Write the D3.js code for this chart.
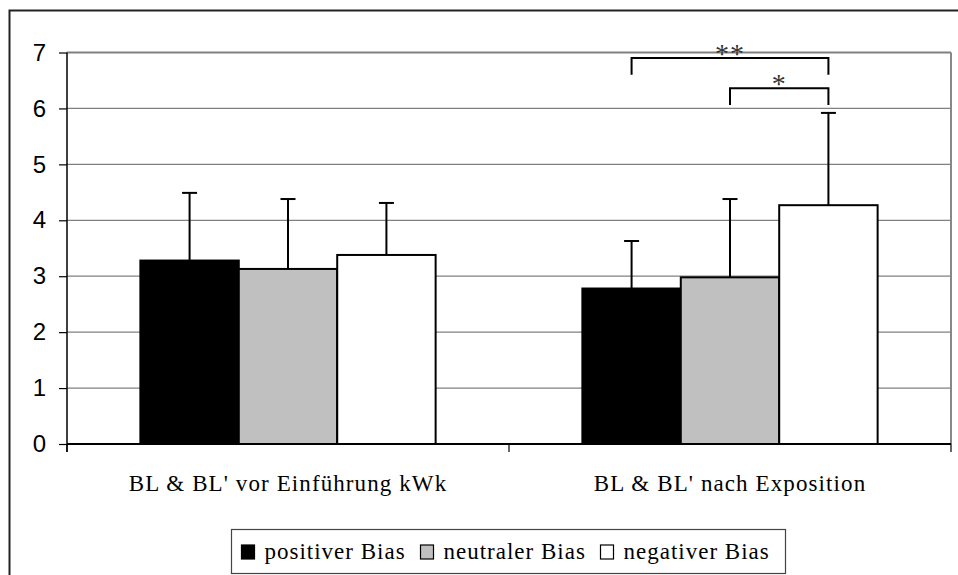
<!DOCTYPE html>
<html><head><meta charset="utf-8">
<script src="https://cdn.jsdelivr.net/npm/d3@7/dist/d3.min.js"></script>
<style>body{margin:0;background:#fff}svg{display:block}</style>
</head><body>
<svg id="c" width="958" height="575"></svg>
<script>
const categories = ["BL & BL' vor Einführung kWk", "BL & BL' nach Exposition"];
const seriesNames = ["positiver Bias", "neutraler Bias", "negativer Bias"];
const seriesColors = ["#000000", "#c0c0c0", "#ffffff"];
const means = [[3.28, 3.13, 3.38], [2.78, 2.98, 4.27]];
const errors = [[1.21, 1.25, 0.93], [0.85, 1.40, 1.65]];
const yTicks = [0, 1, 2, 3, 4, 5, 6, 7];
const brackets = [
  {cat: 1, from: 0, to: 2, top: 6.9, leg: 6.6, label: "**"},
  {cat: 1, from: 1, to: 2, top: 6.36, leg: 6.06, label: "*"}
];

const SERIF = "Liberation Serif";
const SANS = "Liberation Sans";
const svg = d3.select("#c");
const L = 67, R = 951, T = 52.5, B = 444;

// outer frame
svg.append("rect").attr("x", 9.5).attr("y", 10.5).attr("width", 1000).attr("height", 1000)
  .attr("fill", "none").attr("stroke", "#222").attr("stroke-width", 2);

const x = d3.scaleBand().domain(categories).range([L, R]).paddingInner(0).paddingOuter(0);
const xsInner = d3.scaleBand().domain(seriesNames).range([x.bandwidth()*0.166, x.bandwidth()*0.834]);
const y = d3.scaleLinear().domain([0, 7]).range([B, T]);

// gridlines
svg.append("g").selectAll("line").data(yTicks.filter(d => d > 0)).join("line")
  .attr("x1", L).attr("x2", R).attr("y1", d => y(d)).attr("y2", d => y(d))
  .attr("stroke", "#808080").attr("stroke-width", d => d === 7 ? 2 : 1.2);
svg.append("line").attr("x1", R).attr("x2", R).attr("y1", T).attr("y2", B)
  .attr("stroke", "#888").attr("stroke-width", 2);

// bars
const groups = svg.append("g").selectAll("g").data(categories).join("g")
  .attr("transform", d => `translate(${x(d)},0)`);
const rows = (d, i) => means[i].map((v, j) => ({v, j, e: errors[i][j]}));
groups.selectAll("rect").data(rows).join("rect")
  .attr("x", d => xsInner(seriesNames[d.j]))
  .attr("width", xsInner.bandwidth())
  .attr("y", d => y(d.v)).attr("height", d => B - y(d.v))
  .attr("fill", d => seriesColors[d.j]).attr("stroke", "#000").attr("stroke-width", 2);

// error bars
const eb = groups.selectAll("g.eb").data(rows).join("g").attr("class", "eb");
const cxOf = d => xsInner(seriesNames[d.j]) + xsInner.bandwidth()/2;
eb.append("line").attr("x1", cxOf).attr("x2", cxOf)
  .attr("y1", d => y(d.v)).attr("y2", d => y(d.v + d.e))
  .attr("stroke", "#000").attr("stroke-width", 2);
eb.append("line").attr("x1", d => cxOf(d) - 7.5).attr("x2", d => cxOf(d) + 7.5)
  .attr("y1", d => y(d.v + d.e)).attr("y2", d => y(d.v + d.e))
  .attr("stroke", "#000").attr("stroke-width", 2);

// brackets
brackets.forEach(b => {
  const cx = i => x(categories[b.cat]) + xsInner(seriesNames[i]) + xsInner.bandwidth()/2;
  const x1 = cx(b.from), x2 = cx(b.to);
  svg.append("path")
    .attr("d", `M${x1},${y(b.leg)}V${y(b.top)}H${x2}V${y(b.leg)}`)
    .attr("fill", "none").attr("stroke", "#000").attr("stroke-width", 2);
  svg.append("text").attr("x", (x1 + x2)/2).attr("y", y(b.top) + 5)
    .attr("text-anchor", "middle").attr("font-family", SERIF).attr("font-size", 28)
    .attr("letter-spacing", 1).attr("fill", "#333").text(b.label);
});

// y axis
const yAxis = svg.append("g").attr("transform", `translate(${L},0)`)
  .call(d3.axisLeft(y).tickValues(yTicks).tickSize(8).tickPadding(13).tickFormat(d3.format("d")));
yAxis.select(".domain").attr("stroke", "#000").attr("stroke-width", 1.5).attr("d", `M0,${T}V${B + 8}`);
yAxis.selectAll(".tick line").attr("stroke", "#000").attr("stroke-width", 1.2);
yAxis.selectAll("text").attr("font-family", SANS).attr("font-size", 24).attr("fill", "#000");

// x axis
const xAxis = svg.append("g").attr("transform", `translate(0,${B})`)
  .call(d3.axisBottom(x).tickSize(0).tickPadding(31));
xAxis.select(".domain").attr("stroke", "#000").attr("stroke-width", 2).attr("d", `M${L},0H${R}`);
xAxis.selectAll("text").attr("font-family", SERIF).attr("font-size", 23)
  .attr("letter-spacing", 1.1).attr("fill", "#000");
svg.append("g").selectAll("line").data([L, x(categories[1]), R]).join("line")
  .attr("x1", d => d).attr("x2", d => d).attr("y1", B).attr("y2", B + 8)
  .attr("stroke", "#000").attr("stroke-width", 1.2);

// legend
const lg = svg.append("g");
lg.append("rect").attr("x", 231.5).attr("y", 529.5).attr("width", 554).attr("height", 44)
  .attr("fill", "#fff").attr("stroke", "#444").attr("stroke-width", 1.2);
const legX = [241, 420, 600];
seriesNames.forEach((n, i) => {
  lg.append("rect").attr("x", legX[i] + 0.5).attr("y", 545).attr("width", 13).attr("height", 14)
    .attr("fill", seriesColors[i]).attr("stroke", "#000").attr("stroke-width", 1.2);
  lg.append("text").attr("x", legX[i] + 23.5).attr("y", 559)
    .attr("font-family", SERIF).attr("font-size", 23).attr("letter-spacing", 1)
    .attr("fill", "#000").text(n);
});
</script>
</body></html>
